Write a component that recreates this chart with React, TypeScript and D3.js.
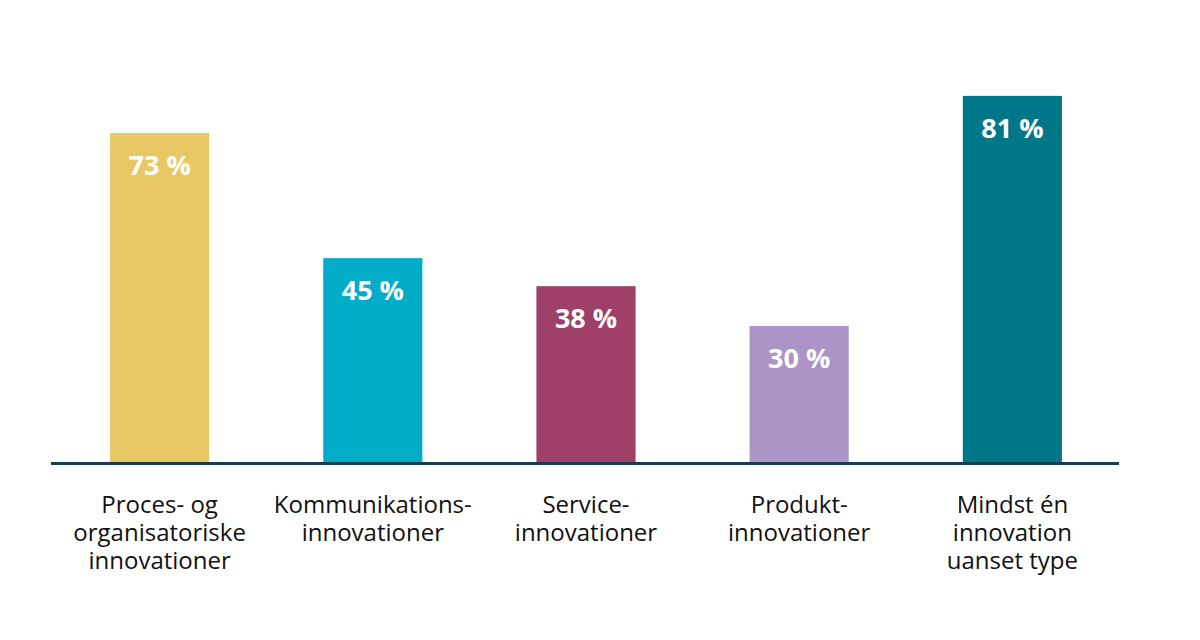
import React from "react";
import * as d3 from "d3";

const categories = [
  ["Proces- og", "organisatoriske", "innovationer"],
  ["Kommunikations-", "innovationer"],
  ["Service-", "innovationer"],
  ["Produkt-", "innovationer"],
  ["Mindst én", "innovation", "uanset type"],
];
const values = [72.8, 45.1, 38.9, 30.1, 81];
const valueLabels = ["73 %", "45 %", "38 %", "30 %", "81 %"];
const colors = ["#E8C864", "#00ACC8", "#9E4068", "#AC94C6", "#007788"];

export default function App() {
  const W = 1200, H = 640;
  const baseY = 462;
  const x = d3.scaleBand<number>().domain(d3.range(values.length)).range([52.5, 1119.5]).paddingInner(0.535).paddingOuter(0.27);
  const y = d3.scaleLinear().domain([0, 100]).range([baseY, baseY - 452]);
  const font = "'Open Sans', 'Noto Sans', sans-serif";
  return (
    <svg width={W} height={H} style={{ position: "absolute", left: 0, top: 0, background: "#fff" }}>
      {values.map((v, i) => (
        <g key={i}>
          <rect x={x(i)} y={y(v)} width={x.bandwidth()} height={baseY - y(v)} fill={colors[i]} />
          <text x={x(i)! + x.bandwidth() / 2} y={y(v) + 42} textAnchor="middle" fill="#fff" fontFamily={font} fontWeight={700} fontSize={27}>
            {valueLabels[i]}
          </text>
          {categories[i].map((line, j) => (
            <text key={j} x={x(i)! + x.bandwidth() / 2} y={513 + j * 28} textAnchor="middle" fill="#111" fontFamily={font} fontSize={24}>
              {line}
            </text>
          ))}
        </g>
      ))}
      <line x1={51} x2={1119} y1={463.5} y2={463.5} stroke="#173D4F" strokeWidth={3} />
    </svg>
  );
}
